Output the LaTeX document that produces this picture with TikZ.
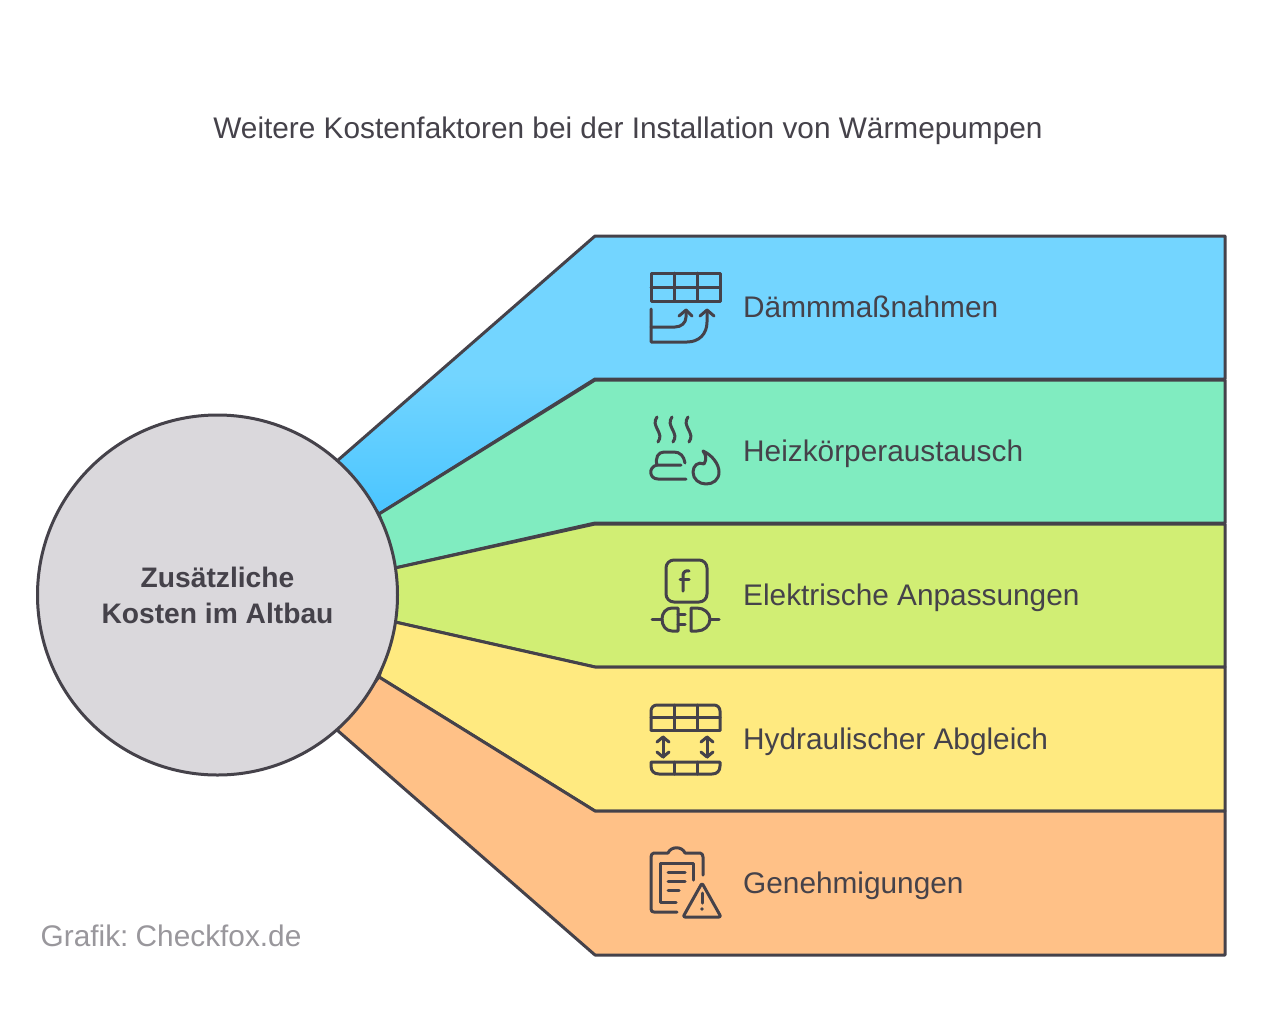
\documentclass[tikz,border=0pt]{standalone}
\usepackage{fontspec}
\usepackage{xcolor}
\setmainfont{Liberation Sans}
\usetikzlibrary{arrows.meta}
\definecolor{ink}{HTML}{45424A}
\definecolor{bandA}{HTML}{73D5FF}
\definecolor{bandAlow}{HTML}{4AC5FF}
\definecolor{bandB}{HTML}{80ECC0}
\definecolor{bandC}{HTML}{D1EE74}
\definecolor{bandD}{HTML}{FFEA80}
\definecolor{bandE}{HTML}{FFC187}
\definecolor{hub}{HTML}{DAD8DC}
\tikzset{
band/.style={draw=ink,line width=3pt,line join=round},
icon/.style={draw=ink,line width=3pt,line cap=round,line join=round},
label/.style={anchor=base west,inner sep=0pt,text=ink,font=\fontsize{29.8}{34}\selectfont}
}
\begin{document}
\begin{tikzpicture}[x=1pt,y=-1pt]
\useasboundingbox[fill=white](0,0)rectangle(1263,1029);
\node[anchor=base,inner sep=0pt,text=ink,font=\fontsize{29.8}{34}\selectfont](title)at(628,138){Weitere Kostenfaktoren bei der Installation von Wärmepumpen};
\shade[top color=bandA,bottom color=bandAlow,middle color=bandA,band](337,461)--(595,236)--(1225,236)--(1225,379)--(595,379)--(379,514)--cycle;
\draw[band,fill=bandB](379,514)--(595,380)--(1225,380)--(1225,523)--(595,523)--(395,568)--cycle;
\draw[band,fill=bandC](395,568)--(595,524)--(1225,524)--(1225,667)--(595,667)--(395,622)--cycle;
\draw[band,fill=bandD](395,622)--(595,667)--(1225,667)--(1225,811)--(595,811)--(379,677)--cycle;
\draw[band,fill=bandE](379,677)--(595,811)--(1225,811)--(1225,955)--(595,955)--(337,730)--cycle;
\node[circle,draw=ink,line width=3pt,fill=hub,minimum size=360pt,inner sep=0pt,align=center,text=ink,font=\fontsize{28.2}{36}\selectfont\bfseries](hubnode)at(217.5,595){Zusätzliche\\Kosten im Altbau};
\node[label](daemm)at(743,317){Dämmmaßnahmen};
\node[label](heiz)at(743,461){Heizkörperaustausch};
\node[label](elek)at(743,605){Elektrische Anpassungen};
\node[label](hydr)at(743,749){Hydraulischer Abgleich};
\node[label](gene)at(743,893){Genehmigungen};
\node[anchor=base west,inner sep=0pt,text=ink!55,font=\fontsize{29.8}{34}\selectfont](credit)at(40.5,946){\spaceskip=4.5pt Grafik: Checkfox.de};
% insulation
\draw[icon](651,273)rectangle(720,301);
\draw[icon](651,287)--(720,287);
\draw[icon](674,273)--(674,301);
\draw[icon](697,273)--(697,301);
\draw[icon](651,309)--(651,342)--(687,342)..controls(699,342)and(707,334)..(707,322)--(707,310);
\draw[icon](700,316)--(707,310)--(714,316);
\draw[icon](651,327)--(675,327)..controls(681,327)and(686,323)..(686,317)--(686,310);
\draw[icon](679,316)--(686,310)--(692,316);
% radiator and flame
\draw[icon](657,417)..controls(650,426)and(665,433)..(658,442);
\draw[icon](672,417)..controls(665,426)and(680,433)..(673,442);
\draw[icon](688,417)..controls(681,426)and(696,433)..(689,442);
\draw[icon](685,463)..controls(684,456)and(680,452)..(674,452)--(664,452)..controls(658,452)and(655,458)..(657,465)--(681,465);
\draw[icon](657,465)..controls(648,467)and(649,479)..(658,479)--(686,479);
\draw[icon](703,451)..controls(712,455)and(719,464)..(719,472)..controls(719,480)and(713,484)..(706,484)..controls(699,484)and(693,479)..(693,472)..controls(693,466)and(698,461)..(704,464)..controls(707,459)and(706,455)..(703,451)--cycle;
% plug
\draw[icon,rounded corners=8pt](666,560)rectangle(707,602);
\draw[icon](683,591)--(683,575)..controls(683,572)and(686,570)..(689,571);
\draw[icon](680,579)--(689,579);
\draw[icon](652,619)--(662,619);
\draw[icon](678,608)--(672,608)..controls(666,608)and(662,613)..(662,619)..controls(662,626)and(666,631)..(672,631)--(678,631)--cycle;
\draw[icon](678,614)--(685,614);
\draw[icon](678,624)--(685,624);
\draw[icon](691,608)--(697,608)..controls(704,608)and(710,613)..(710,619)..controls(710,626)and(704,631)..(697,631)--(691,631)--cycle;
\draw[icon](710,619)--(719,619);
% hydraulic
\draw[icon,rounded corners=6pt](651,730)--(651,705)--(720,705)--(720,730);
\draw[icon](651,730)--(720,730);
\draw[icon](651,717)--(720,717);
\draw[icon](674,705)--(674,730);
\draw[icon](697,705)--(697,730);
\draw[icon](663,737)--(663,757);
\draw[icon](657,742)--(663,737)--(669,742);
\draw[icon](657,752)--(663,757)--(669,752);
\draw[icon](707,737)--(707,757);
\draw[icon](701,742)--(707,737)--(713,742);
\draw[icon](701,752)--(707,757)--(713,752);
\draw[icon](651,762)--(720,762)--(720,766)..controls(720,771)and(717,774)..(712,774)--(659,774)..controls(654,774)and(651,771)..(651,766)--cycle;
\draw[icon](674,762)--(674,774);
\draw[icon](697,762)--(697,774);
% permits
\draw[icon](677,912)--(654,912)..controls(652,912)and(651,911)..(651,909)--(651,857)..controls(651,855)and(652,853)..(654,853)--(668,853)..controls(671,846)and(682,846)..(685,853)--(700,853)..controls(702,853)and(703,855)..(703,857)--(703,875);
\draw[icon](676,902)--(660,902)--(660,863)--(693,863)--(693,880);
\draw[icon](668,872)--(685,872);
\draw[icon](668,881)--(685,881);
\draw[icon](668,890)--(679,890);
\draw[icon,rounded corners=2pt](702,883)--(721,917)--(683,917)--cycle;
\draw[icon](702,893)--(702,903);
\fill[ink](702,909)circle(1.8pt);
\end{tikzpicture}
\end{document}
